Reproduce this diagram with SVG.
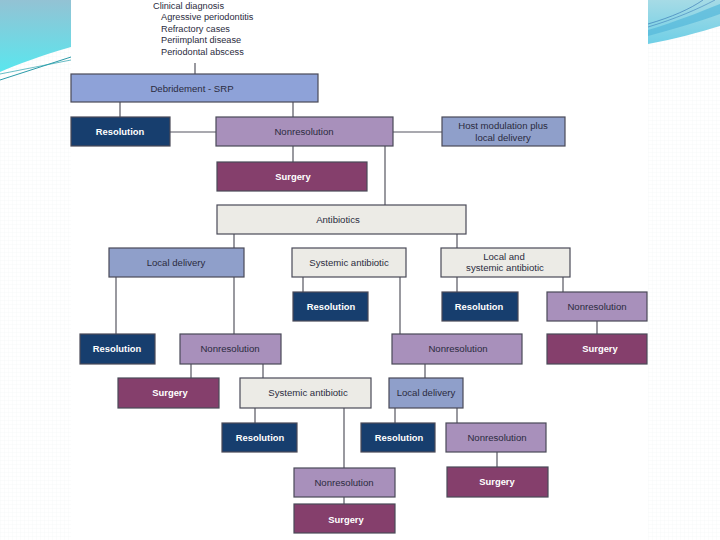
<svg xmlns="http://www.w3.org/2000/svg" width="720" height="540" viewBox="0 0 720 540">
<defs>
<linearGradient id="gl" x1="0" y1="0" x2="0" y2="1">
<stop offset="0" stop-color="#93c2d4"/>
<stop offset="1" stop-color="#5ae6ee"/>
</linearGradient>
<linearGradient id="gr" x1="0" y1="0" x2="0" y2="1">
<stop offset="0" stop-color="#a6dbe6"/>
<stop offset="1" stop-color="#6fcfe6"/>
</linearGradient>
<pattern id="grid" width="4" height="4" patternUnits="userSpaceOnUse">
<rect width="4" height="4" fill="#ffffff"/>
<path d="M0 0H4M0 0V4" stroke="#f1f3f5" stroke-width="0.6"/>
</pattern>
<style>
.b{stroke:#4a4a58;stroke-width:1.2}
.deb{fill:#8ea2d8}
.res{fill:#173e6e}
.non{fill:#a890bb}
.sur{fill:#853f6c}
.loc{fill:#8f9fca}
.ant{fill:#ecebe6}
.t{font-family:"Liberation Sans",Arial,sans-serif;font-size:9.6px;fill:#2b2b40;text-anchor:middle}
.w{font-family:"Liberation Sans",Arial,sans-serif;font-size:9.4px;font-weight:bold;fill:#ffffff;text-anchor:middle}
.h{font-family:"Liberation Sans",Arial,sans-serif;font-size:9.2px;fill:#2b2b40}
#connectors line{stroke:#555560;stroke-width:1.2}
</style>
</defs>
<rect width="720" height="540" fill="url(#grid)"/>
<rect x="71" y="0" width="577" height="540" fill="#ffffff"/>
<g id="decor-left">
<path d="M0 0H71V47C40 56 18 64 0 72Z" fill="url(#gl)"/>
<path d="M0 80L71 57" stroke="#2a9aa8" stroke-width="1" fill="none"/>
<path d="M0 74L71 60" stroke="#2aa0ac" stroke-width="0.7" fill="none"/>
</g>
<g id="decor-right">
<path d="M648 0H720V26C700 32 675 39 648 44Z" fill="url(#gr)"/>
<path d="M648 30C675 22 700 12 720 4V14C700 21 675 29 648 36Z" fill="#54b8da" opacity="0.7"/>
<path d="M648 24C672 17 690 9 703 0" stroke="#2f6fb0" stroke-width="0.6" fill="none"/>
<path d="M648 27C675 19 698 9 715 0" stroke="#2f6fb0" stroke-width="0.5" fill="none"/>
</g>
<g id="connectors">
<line x1="195" y1="63" x2="195" y2="74"/>
<line x1="120" y1="102" x2="120" y2="117"/>
<line x1="293" y1="102" x2="293" y2="117"/>
<line x1="170" y1="132" x2="216" y2="132"/>
<line x1="393" y1="132" x2="442" y2="132"/>
<line x1="293" y1="146" x2="293" y2="162"/>
<line x1="385" y1="146" x2="385" y2="205"/>
<line x1="234" y1="234" x2="234" y2="248"/>
<line x1="457" y1="234" x2="457" y2="248"/>
<line x1="116" y1="277" x2="116" y2="334"/>
<line x1="234" y1="277" x2="234" y2="334"/>
<line x1="303" y1="277" x2="303" y2="292"/>
<line x1="400" y1="277" x2="400" y2="334"/>
<line x1="457" y1="277" x2="457" y2="292"/>
<line x1="563" y1="277" x2="563" y2="292"/>
<line x1="597" y1="321" x2="597" y2="334"/>
<line x1="191" y1="364" x2="191" y2="378"/>
<line x1="263" y1="364" x2="263" y2="378"/>
<line x1="425" y1="364" x2="425" y2="378"/>
<line x1="255" y1="408" x2="255" y2="423"/>
<line x1="344" y1="408" x2="344" y2="468"/>
<line x1="395" y1="408" x2="395" y2="423"/>
<line x1="457" y1="408" x2="457" y2="423"/>
<line x1="497" y1="452" x2="497" y2="467"/>
<line x1="344" y1="497" x2="344" y2="504"/>
</g>
<g id="diagnosis">
<text class="h" x="153" y="9">Clinical diagnosis</text>
<text class="h" x="161" y="20">Agressive periodontitis</text>
<text class="h" x="161" y="32">Refractory cases</text>
<text class="h" x="161" y="43">Periimplant disease</text>
<text class="h" x="161" y="55">Periodontal abscess</text>
</g>
<g id="debridement"><rect class="b deb" x="71" y="74" width="247" height="28"/><text class="t" x="192" y="92">Debridement - SRP</text></g>
<g id="resolution1"><rect class="b res" x="71" y="117" width="99" height="29"/><text class="w" x="120" y="135">Resolution</text></g>
<g id="nonresolution1"><rect class="b non" x="216" y="117" width="177" height="29"/><text class="t" x="304" y="135">Nonresolution</text></g>
<g id="hostmod"><rect class="b loc" x="442" y="117" width="123" height="29"/><text class="t" x="503" y="129">Host modulation plus</text><text class="t" x="503" y="141">local delivery</text></g>
<g id="surgery1"><rect class="b sur" x="217" y="162" width="150" height="29"/><text class="w" x="293" y="180">Surgery</text></g>
<g id="antibiotics"><rect class="b ant" x="217" y="205" width="249" height="29"/><text class="t" x="338" y="223">Antibiotics</text></g>
<g id="localdelivery1"><rect class="b loc" x="109" y="248" width="135" height="29"/><text class="t" x="176" y="266">Local delivery</text></g>
<g id="systemic1"><rect class="b ant" x="292" y="248" width="114" height="29"/><text class="t" x="349" y="266">Systemic antibiotic</text></g>
<g id="localsystemic"><rect class="b ant" x="441" y="248" width="129" height="29"/><text class="t" x="504" y="260">Local and</text><text class="t" x="505" y="271">systemic antibiotic</text></g>
<g id="resolution2"><rect class="b res" x="293" y="292" width="75" height="29"/><text class="w" x="331" y="310">Resolution</text></g>
<g id="resolution3"><rect class="b res" x="442" y="292" width="76" height="29"/><text class="w" x="479" y="310">Resolution</text></g>
<g id="nonresolution2"><rect class="b non" x="547" y="292" width="100" height="29"/><text class="t" x="597" y="310">Nonresolution</text></g>
<g id="resolution4"><rect class="b res" x="80" y="334" width="75" height="30"/><text class="w" x="117" y="352">Resolution</text></g>
<g id="nonresolution3"><rect class="b non" x="180" y="334" width="101" height="30"/><text class="t" x="230" y="352">Nonresolution</text></g>
<g id="nonresolution4"><rect class="b non" x="392" y="334" width="130" height="30"/><text class="t" x="458" y="352">Nonresolution</text></g>
<g id="surgery2"><rect class="b sur" x="547" y="334" width="100" height="30"/><text class="w" x="600" y="352">Surgery</text></g>
<g id="surgery3"><rect class="b sur" x="118" y="378" width="101" height="30"/><text class="w" x="170" y="396">Surgery</text></g>
<g id="systemic2"><rect class="b ant" x="240" y="378" width="131" height="30"/><text class="t" x="308" y="396">Systemic antibiotic</text></g>
<g id="localdelivery2"><rect class="b loc" x="389" y="378" width="74" height="30"/><text class="t" x="426" y="396">Local delivery</text></g>
<g id="resolution5"><rect class="b res" x="222" y="423" width="75" height="29"/><text class="w" x="260" y="441">Resolution</text></g>
<g id="resolution6"><rect class="b res" x="361" y="423" width="74" height="29"/><text class="w" x="399" y="441">Resolution</text></g>
<g id="nonresolution5"><rect class="b non" x="446" y="423" width="100" height="29"/><text class="t" x="497" y="441">Nonresolution</text></g>
<g id="nonresolution6"><rect class="b non" x="294" y="468" width="101" height="29"/><text class="t" x="344" y="486">Nonresolution</text></g>
<g id="surgery4"><rect class="b sur" x="447" y="467" width="101" height="30"/><text class="w" x="497" y="485">Surgery</text></g>
<g id="surgery5"><rect class="b sur" x="294" y="504" width="101" height="29"/><text class="w" x="346" y="523">Surgery</text></g>
</svg>
